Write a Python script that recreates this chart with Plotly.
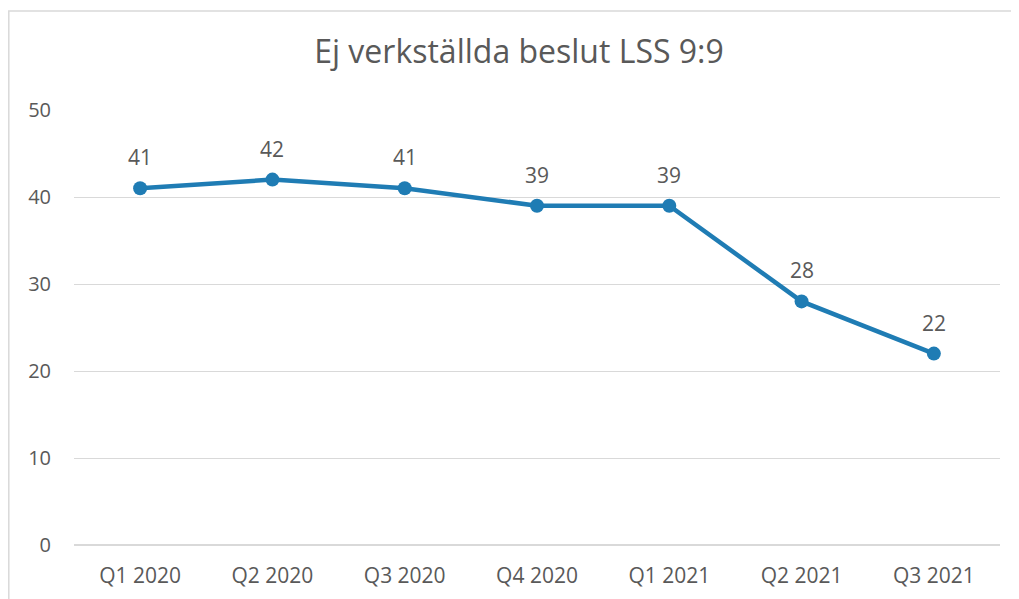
import plotly.graph_objects as go

categories = ["Q1 2020", "Q2 2020", "Q3 2020", "Q4 2020", "Q1 2021", "Q2 2021", "Q3 2021"]
values = [41, 42, 41, 39, 39, 28, 22]
y_ticks = [0, 10, 20, 30, 40, 50]

W, H = 1019, 599
L, R, T, B = 66, 27, 102, 62
pw, ph = W - L - R, H - T - B

color = "#1F7CB4"
font_fam = "Open Sans, Noto Sans, sans-serif"
txt_col = "#595959"

fig = go.Figure()
fig.add_trace(go.Scatter(
    x=categories, y=values, mode="lines+markers",
    line=dict(color=color, width=4.5),
    marker=dict(color=color, size=14),
    hoverinfo="x+y", showlegend=False,
))

for c, v in zip(categories, values):
    fig.add_annotation(x=c, y=v, text=str(v), showarrow=False, yshift=31,
                       font=dict(size=21, color=txt_col, family=font_fam))

# chart border
fig.add_shape(type="rect", xref="paper", yref="paper",
              x0=(0.8 - L) / pw, x1=(1040 - L) / pw,
              y0=-(640 - (H - B)) / ph, y1=1 + (T - 3) / ph,
              line=dict(color="#D9D9D9", width=1.5), fillcolor="rgba(0,0,0,0)", layer="below")

fig.update_layout(
    width=W, height=H, autosize=False,
    margin=dict(l=L, r=R, t=T, b=B),
    paper_bgcolor="white", plot_bgcolor="white",
    title=dict(text="Ej verkställda beslut LSS 9:9", x=511 / W, xanchor="center",
               y=1 - 44 / H, yanchor="middle",
               font=dict(size=32, color=txt_col, family=font_fam)),
    xaxis=dict(type="category", range=[-0.5, 6.5], showgrid=False, zeroline=False,
               showline=False, ticks="", ticklabelstandoff=16,
               tickfont=dict(size=21, color=txt_col, family=font_fam)),
    yaxis=dict(range=[0, 50], tickvals=y_ticks, showgrid=True, gridcolor="#D9D9D9",
               gridwidth=1, zeroline=True, zerolinecolor="#D9D9D9", zerolinewidth=1.5,
               showline=False, ticks="", ticklabelstandoff=22,
               tickfont=dict(size=20, color=txt_col, family=font_fam)),
)

fig.write_html("out.html")
